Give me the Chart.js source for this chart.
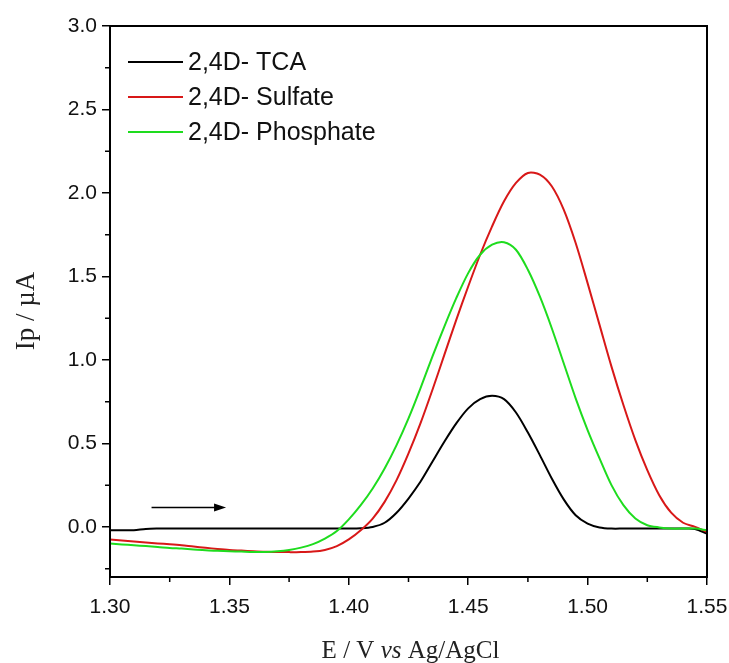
<!DOCTYPE html>
<html>
<head>
<meta charset="utf-8">
<script src="https://cdn.jsdelivr.net/npm/chart.js@4"></script>
<style>
    body { margin: 0; background: #fff; }
</style>
</head>
<body>
<canvas id="dpv-chart" width="729" height="663"></canvas>
<script>

// potential axis (V vs Ag/AgCl)
var potentials = [
    1.300, 1.305, 1.310, 1.315, 1.320, 1.325, 1.330, 1.335, 1.340, 1.345,
    1.350, 1.355, 1.360, 1.365, 1.370, 1.375, 1.380, 1.385, 1.390, 1.395,
    1.400, 1.405, 1.410, 1.415, 1.420, 1.425, 1.430, 1.435, 1.440, 1.445,
    1.450, 1.455, 1.460, 1.465, 1.470, 1.475, 1.480, 1.485, 1.490, 1.495,
    1.500, 1.505, 1.510, 1.515, 1.520, 1.525, 1.530, 1.535, 1.540, 1.545,
    1.550
];

// peak currents (uA)
var tcaCurrent = [
    -0.020, -0.020, -0.020, -0.012, -0.010, -0.010, -0.010, -0.010, -0.010, -0.010,
    -0.010, -0.010, -0.010, -0.010, -0.010, -0.010, -0.010, -0.010, -0.010, -0.010,
    -0.010, -0.008, 0.000, 0.025, 0.085, 0.170, 0.270, 0.390, 0.510, 0.620,
    0.710, 0.765, 0.785, 0.765, 0.685, 0.565, 0.430, 0.290, 0.165, 0.070,
    0.020, -0.003, -0.010, -0.010, -0.010, -0.010, -0.010, -0.010, -0.010, -0.012,
    -0.040
];
var sulfateCurrent = [
    -0.075, -0.082, -0.088, -0.094, -0.099, -0.104, -0.110, -0.118, -0.125, -0.132,
    -0.138, -0.142, -0.146, -0.149, -0.150, -0.151, -0.151, -0.148, -0.138, -0.115,
    -0.075, -0.020, 0.050, 0.150, 0.280, 0.440, 0.620, 0.820, 1.030, 1.240,
    1.440, 1.630, 1.800, 1.950, 2.060, 2.120, 2.110, 2.040, 1.900, 1.700,
    1.460, 1.210, 0.960, 0.730, 0.520, 0.340, 0.190, 0.085, 0.025, 0.000,
    -0.030
];
var phosphateCurrent = [
    -0.100, -0.105, -0.110, -0.115, -0.120, -0.126, -0.130, -0.135, -0.140, -0.143,
    -0.146, -0.148, -0.150, -0.150, -0.146, -0.138, -0.124, -0.103, -0.070, -0.025,
    0.045, 0.130, 0.230, 0.350, 0.490, 0.650, 0.830, 1.020, 1.200, 1.370,
    1.520, 1.630, 1.690, 1.705, 1.660, 1.540, 1.380, 1.190, 0.980, 0.770,
    0.580, 0.410, 0.250, 0.130, 0.050, 0.010, -0.003, -0.010, -0.010, -0.010,
    -0.020
];

var seriesNames = ['2,4D- TCA', '2,4D- Sulfate', '2,4D- Phosphate'];
var seriesColors = ['#000000', '#d81818', '#1edc1e'];

var xTicks = [1.30, 1.35, 1.40, 1.45, 1.50, 1.55];
var xTickLabels = ['1.30', '1.35', '1.40', '1.45', '1.50', '1.55'];
var xMinorTicks = [1.325, 1.375, 1.425, 1.475, 1.525];
var yTicks = [0.0, 0.5, 1.0, 1.5, 2.0, 2.5, 3.0];
var yTickLabels = ['0.0', '0.5', '1.0', '1.5', '2.0', '2.5', '3.0'];
var yMinorTicks = [-0.25, 0.25, 0.75, 1.25, 1.75, 2.25, 2.75];

// scan direction arrow, in data units
var arrowFrom = [1.3174, 0.116];
var arrowTo = [1.3486, 0.116];

function toPoints(ys) {
    return potentials.map(function(x, i) { return { x: x, y: ys[i] }; });
}

var tickFont = { family: '"Liberation Sans", Arial, sans-serif', size: 21 };
var serif = '"Liberation Serif", "Times New Roman", serif';

var decorPlugin = {
    id: 'decor',
    afterDraw: function(chart) {
        var ctx = chart.ctx;
        var a = chart.chartArea;
        var xs = chart.scales.x;
        var ys = chart.scales.y;
        ctx.save();

        // frame
        ctx.strokeStyle = '#000';
        ctx.lineWidth = 2;
        ctx.strokeRect(a.left, a.top, a.right - a.left, a.bottom - a.top);

        // minor ticks
        ctx.lineWidth = 1.5;
        ctx.beginPath();
        xMinorTicks.forEach(function(v) {
            var px = xs.getPixelForValue(v);
            ctx.moveTo(px, a.bottom);
            ctx.lineTo(px, a.bottom + 5);
        });
        yMinorTicks.forEach(function(v) {
            var py = ys.getPixelForValue(v);
            ctx.moveTo(a.left, py);
            ctx.lineTo(a.left - 5, py);
        });
        ctx.stroke();

        // arrow
        var x1 = xs.getPixelForValue(arrowFrom[0]), y1 = ys.getPixelForValue(arrowFrom[1]);
        var x2 = xs.getPixelForValue(arrowTo[0]), y2 = ys.getPixelForValue(arrowTo[1]);
        ctx.lineWidth = 1.5;
        ctx.beginPath();
        ctx.moveTo(x1, y1);
        ctx.lineTo(x2 - 10, y2);
        ctx.stroke();
        ctx.fillStyle = '#000';
        ctx.beginPath();
        ctx.moveTo(x2, y2);
        ctx.lineTo(x2 - 12, y2 - 4);
        ctx.lineTo(x2 - 12, y2 + 4);
        ctx.closePath();
        ctx.fill();

        // legend
        ctx.font = '25px "Liberation Sans", Arial, sans-serif';
        ctx.textBaseline = 'middle';
        ctx.textAlign = 'left';
        chart.data.datasets.forEach(function(ds, i) {
            var ly = a.top + 36 + i * 35;
            ctx.strokeStyle = ds.borderColor;
            ctx.lineWidth = 2;
            ctx.beginPath();
            ctx.moveTo(a.left + 18, ly);
            ctx.lineTo(a.left + 73, ly);
            ctx.stroke();
            ctx.fillStyle = '#111';
            ctx.fillText(ds.label, a.left + 78, ly + 1);
        });

        // axis titles
        ctx.fillStyle = '#222';
        ctx.textBaseline = 'alphabetic';
        ctx.font = '27px ' + serif;
        ctx.save();
        ctx.translate(34, 311);
        ctx.rotate(-Math.PI / 2);
        ctx.textAlign = 'center';
        ctx.fillText('Ip / \u00B5A', 0, 0);
        ctx.restore();

        var parts = [
            { t: 'E / V ', f: '25px ' + serif },
            { t: 'vs', f: 'italic 25px ' + serif },
            { t: ' Ag/AgCl', f: '25px ' + serif }
        ];
        var total = 0;
        parts.forEach(function(p) { ctx.font = p.f; p.w = ctx.measureText(p.t).width; total += p.w; });
        var tx = (a.left + a.right) / 2 + 2 - total / 2;
        var ty = a.bottom + 81;
        ctx.textAlign = 'left';
        parts.forEach(function(p) { ctx.font = p.f; ctx.fillText(p.t, tx, ty); tx += p.w; });

        ctx.restore();
    }
};

var ctx = document.getElementById('dpv-chart');

var data = {
    datasets: [
        { label: seriesNames[0], data: toPoints(tcaCurrent), borderColor: seriesColors[0], order: 2 },
        { label: seriesNames[1], data: toPoints(sulfateCurrent), borderColor: seriesColors[1], order: 1 },
        { label: seriesNames[2], data: toPoints(phosphateCurrent), borderColor: seriesColors[2], order: 0 }
    ]
};

var options = {
    responsive: false,
    animation: false,
    devicePixelRatio: 1,
    layout: {
        padding: { top: 26, right: 22, left: 0, bottom: 0 }
    },
    elements: {
        line: { borderWidth: 2, tension: 0.3, fill: false },
        point: { radius: 0 }
    },
    plugins: {
        legend: { display: false },
        tooltip: { enabled: false }
    },
    scales: {
        x: {
            type: 'linear',
            min: 1.30,
            max: 1.55,
            afterBuildTicks: function(scale) {
                scale.ticks = xTicks.map(function(v) { return { value: v }; });
            },
            afterFit: function(scale) {
                scale.height = 86;
                scale.paddingLeft = 0;
                scale.paddingRight = 0;
            },
            grid: { display: true, drawOnChartArea: false, drawTicks: true, tickLength: 8, color: '#000', lineWidth: 1.5 },
            border: { display: false },
            ticks: {
                color: '#111',
                font: tickFont,
                padding: 10,
                maxRotation: 0,
                callback: function(v) { return xTickLabels[xTicks.indexOf(v)]; }
            }
        },
        y: {
            type: 'linear',
            min: -0.3,
            max: 3.0,
            afterBuildTicks: function(scale) {
                scale.ticks = yTicks.map(function(v) { return { value: v }; });
            },
            afterFit: function(scale) {
                scale.width = 110;
                scale.paddingTop = 0;
                scale.paddingBottom = 0;
            },
            grid: { display: true, drawOnChartArea: false, drawTicks: true, tickLength: 8, color: '#000', lineWidth: 1.5 },
            border: { display: false },
            ticks: {
                color: '#111',
                font: tickFont,
                padding: 5,
                callback: function(v) { return yTickLabels[yTicks.indexOf(v)]; }
            }
        }
    }
};

var dpvChart = new Chart(ctx, {
    type: 'line',
    data: data,
    options: options,
    plugins: [decorPlugin]
});

</script>
</body>
</html>
